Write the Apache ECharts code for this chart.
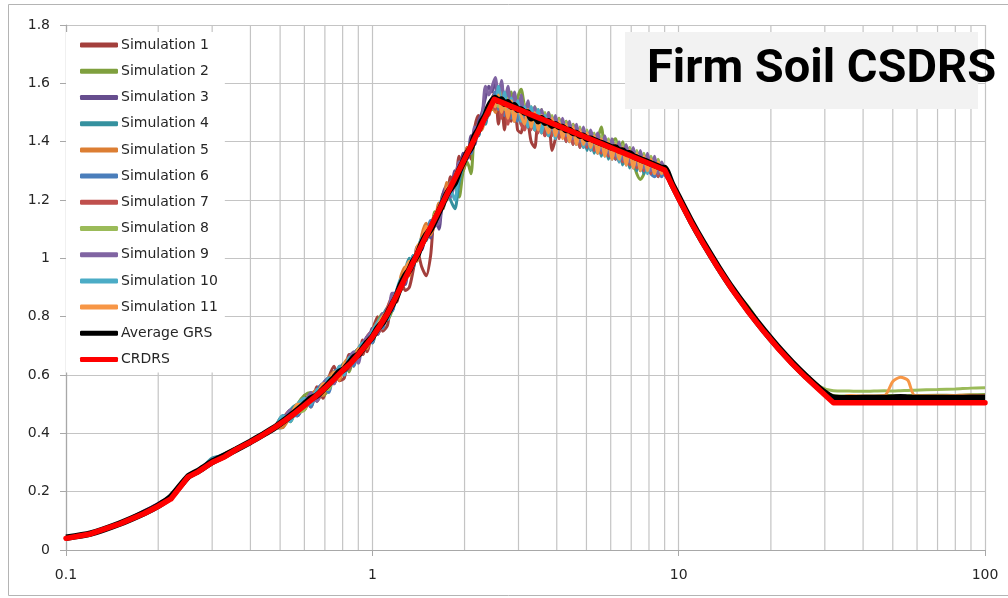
<!DOCTYPE html>
<html>
<head>
<meta charset="utf-8">
<script src="https://cdn.jsdelivr.net/npm/echarts@6/dist/echarts.min.js"></script>
<style>
  html, body { margin: 0; padding: 0; background: #fff; }
  #chart { width: 1008px; height: 598px; }
</style>
</head>
<body>
<div id="chart"></div>
<script>
// Spectral periods (s) shared by the simulations and the average
const periods = [
  0.1,0.12,0.15,0.18,0.2,0.22,0.25,0.27,0.3,0.33,0.36,0.4,0.44,0.48,
  0.51,0.54,0.57,0.6,0.63,0.66,0.69,0.72,0.75,0.78,0.81,0.84,0.87,0.9,0.93,0.96,1.0,1.04,1.08,1.12,1.16,
  1.2,1.24,1.28,1.32,1.36,1.4,1.45,1.5,1.55,1.6,1.65,1.7,1.75,1.8,1.86,1.92,1.98,2.04,2.1,2.16,2.22,2.28,2.34,2.4,2.46,
  2.52,2.58,2.64,2.7,2.77,2.84,2.91,2.98,3.06,3.14,
  3.22,3.3,3.39,3.48,3.57,3.66,3.76,3.86,3.96,4.07,
  4.18,4.29,4.4,4.52,4.64,4.76,4.89,5.02,5.16,5.3,
  5.44,5.59,5.74,5.9,6.06,6.22,6.39,6.56,6.74,6.92,
  7.11,7.3,7.5,7.7,7.91,8.12,8.34,8.57,8.8,9.0,
  9.5,10,11,12,13.5,15,17,19,21,23.5,26,29,32,
  36,40,47,50,53,56,59,70,80,90,100];

const sim1 = [
  0.040,0.056,0.091,0.126,0.152,0.183,0.252,0.271,0.298,0.322,0.343,0.372,0.394,0.418,
  0.45,0.48,0.46,0.53,0.49,0.56,0.52,0.59,0.63,0.58,0.59,0.67,0.67,0.65,0.72,0.68,0.75,0.80,0.75,0.77,0.85,
  0.85,0.93,0.89,0.90,0.96,1.03,0.97,0.94,1.01,1.15,1.13,1.22,1.20,1.28,1.26,1.35,1.30,1.38,1.34,1.45,1.49,1.46,1.51,1.49,1.55,
  1.57,1.46,1.53,1.44,1.55,1.47,1.54,1.44,1.43,1.51,
  1.47,1.40,1.38,1.48,1.45,1.42,1.49,1.37,1.41,1.48,
  1.42,1.47,1.40,1.46,1.39,1.44,1.38,1.43,1.37,1.42,
  1.36,1.41,1.37,1.40,1.34,1.39,1.33,1.38,1.32,1.37,
  1.31,1.36,1.30,1.35,1.31,1.34,1.29,1.33,1.29,1.31,
  1.255,1.205,1.125,1.055,0.966,0.893,0.815,0.750,0.697,0.640,0.595,0.550,0.522,
  0.520,0.522,0.521,0.523,0.522,0.521,0.523,0.524,0.522,0.523,0.524];

const sim2 = [
  0.040,0.055,0.089,0.124,0.150,0.181,0.249,0.272,0.301,0.318,0.348,0.368,0.398,0.423,
  0.46,0.44,0.50,0.53,0.54,0.53,0.53,0.55,0.61,0.62,0.64,0.61,0.67,0.69,0.67,0.73,0.71,0.78,0.81,0.79,0.82,
  0.88,0.89,0.95,0.97,0.98,1.03,1.04,1.10,1.09,1.16,1.14,1.22,1.20,1.26,1.25,1.21,1.30,1.33,1.29,1.43,1.42,1.49,1.47,1.50,1.51,
  1.51,1.57,1.50,1.56,1.48,1.57,1.49,1.55,1.58,1.52,
  1.49,1.46,1.52,1.44,1.51,1.45,1.50,1.43,1.48,1.42,
  1.47,1.41,1.46,1.40,1.45,1.39,1.44,1.38,1.43,1.39,
  1.41,1.45,1.37,1.35,1.40,1.41,1.34,1.40,1.33,1.38,
  1.33,1.29,1.27,1.29,1.35,1.30,1.34,1.29,1.31,1.31,
  1.258,1.210,1.128,1.058,0.970,0.897,0.818,0.754,0.700,0.645,0.600,0.552,0.530,
  0.528,0.527,0.529,0.530,0.528,0.529,0.530,0.531,0.530,0.532,0.533];

const sim3 = [
  0.040,0.056,0.091,0.132,0.160,0.186,0.252,0.270,0.299,0.321,0.344,0.374,0.396,0.419,
  0.43,0.48,0.46,0.50,0.53,0.55,0.57,0.55,0.61,0.62,0.60,0.66,0.67,0.65,0.71,0.69,0.76,0.74,0.81,0.79,0.87,
  0.86,0.91,0.91,0.98,0.97,1.04,1.03,1.10,1.07,1.14,1.10,1.22,1.25,1.22,1.30,1.28,1.36,1.34,1.42,1.39,1.47,1.50,1.55,1.59,1.57,
  1.61,1.52,1.60,1.53,1.58,1.50,1.56,1.48,1.54,1.47,
  1.53,1.46,1.51,1.44,1.50,1.45,1.49,1.43,1.48,1.42,
  1.47,1.41,1.46,1.40,1.45,1.40,1.44,1.38,1.43,1.37,
  1.42,1.36,1.41,1.35,1.40,1.34,1.39,1.33,1.38,1.32,
  1.37,1.31,1.36,1.30,1.35,1.31,1.34,1.29,1.32,1.29,
  1.250,1.206,1.124,1.053,0.966,0.893,0.814,0.751,0.697,0.640,0.594,0.549,0.523,
  0.521,0.522,0.520,0.521,0.522,0.521,0.520,0.522,0.521,0.521,0.522];

const sim4 = [
  0.039,0.054,0.088,0.124,0.149,0.180,0.248,0.268,0.315,0.325,0.342,0.369,0.393,0.417,
  0.42,0.48,0.50,0.48,0.53,0.51,0.57,0.59,0.57,0.62,0.64,0.62,0.67,0.69,0.67,0.73,0.74,0.74,0.80,0.83,0.82,
  0.89,0.92,0.96,1.00,0.97,1.02,1.07,1.06,1.12,1.12,1.18,1.17,1.24,1.20,1.17,1.26,1.32,1.37,1.36,1.42,1.42,1.47,1.46,1.52,1.52,
  1.51,1.57,1.50,1.55,1.48,1.54,1.47,1.53,1.46,1.52,
  1.45,1.51,1.44,1.49,1.43,1.49,1.42,1.48,1.44,1.42,
  1.46,1.40,1.45,1.39,1.44,1.38,1.43,1.37,1.42,1.36,
  1.41,1.35,1.40,1.34,1.39,1.34,1.38,1.32,1.37,1.31,
  1.36,1.30,1.35,1.29,1.34,1.29,1.33,1.28,1.32,1.29,
  1.253,1.206,1.123,1.053,0.965,0.892,0.813,0.749,0.695,0.639,0.593,0.547,0.522,
  0.520,0.521,0.522,0.520,0.521,0.522,0.521,0.520,0.522,0.521,0.521];

const sim5 = [
  0.041,0.055,0.090,0.125,0.151,0.182,0.254,0.273,0.302,0.330,0.350,0.372,0.401,0.418,
  0.42,0.46,0.50,0.48,0.53,0.55,0.53,0.59,0.61,0.58,0.64,0.66,0.63,0.69,0.71,0.69,0.75,0.78,0.76,0.83,0.86,
  0.86,0.94,0.97,0.94,1.01,0.99,1.08,1.12,1.08,1.12,1.19,1.17,1.26,1.23,1.28,1.32,1.31,1.38,1.36,1.42,1.45,1.44,1.49,1.50,1.52,
  1.50,1.56,1.49,1.55,1.50,1.54,1.47,1.53,1.47,1.52,
  1.45,1.51,1.44,1.50,1.43,1.49,1.43,1.48,1.42,1.47,
  1.42,1.46,1.41,1.45,1.40,1.44,1.39,1.43,1.38,1.42,
  1.38,1.41,1.36,1.40,1.35,1.39,1.34,1.38,1.33,1.37,
  1.32,1.36,1.31,1.35,1.30,1.34,1.30,1.33,1.30,1.31,
  1.256,1.208,1.125,1.055,0.967,0.894,0.815,0.751,0.697,0.641,0.595,0.550,0.526,
  0.524,0.525,0.524,0.526,0.525,0.524,0.525,0.526,0.525,0.526,0.526];

const sim6 = [
  0.040,0.055,0.089,0.125,0.150,0.179,0.250,0.270,0.310,0.330,0.345,0.368,0.395,0.420,
  0.46,0.46,0.46,0.52,0.49,0.55,0.57,0.54,0.61,0.62,0.60,0.66,0.63,0.69,0.70,0.73,0.71,0.78,0.76,0.83,0.82,
  0.88,0.90,0.94,0.96,1.01,1.00,1.06,1.07,1.13,1.12,1.17,1.21,1.21,1.26,1.26,1.31,1.32,1.37,1.36,1.42,1.42,1.48,1.47,1.53,1.54,
  1.57,1.51,1.56,1.49,1.57,1.48,1.54,1.47,1.53,1.46,
  1.52,1.45,1.50,1.44,1.50,1.44,1.49,1.43,1.47,1.42,
  1.47,1.41,1.45,1.40,1.45,1.39,1.44,1.38,1.43,1.37,
  1.42,1.36,1.41,1.35,1.40,1.34,1.39,1.34,1.38,1.32,
  1.37,1.31,1.35,1.30,1.34,1.29,1.28,1.29,1.28,1.30,
  1.250,1.204,1.121,1.052,0.964,0.890,0.812,0.748,0.694,0.638,0.592,0.547,0.524,
  0.522,0.521,0.523,0.522,0.521,0.523,0.522,0.521,0.522,0.523,0.522];

const sim7 = [
  0.040,0.055,0.090,0.126,0.151,0.180,0.250,0.271,0.300,0.319,0.346,0.371,0.394,0.421,
  0.44,0.45,0.49,0.50,0.53,0.51,0.55,0.59,0.57,0.62,0.63,0.62,0.67,0.67,0.67,0.73,0.75,0.74,0.78,0.83,0.87,
  0.88,0.89,0.94,0.95,1.00,1.02,1.04,1.09,1.10,1.15,1.15,1.20,1.21,1.26,1.27,1.28,1.34,1.35,1.40,1.40,1.45,1.45,1.49,1.50,1.53,
  1.51,1.56,1.48,1.54,1.46,1.53,1.48,1.54,1.46,1.44,
  1.51,1.44,1.50,1.43,1.49,1.42,1.48,1.42,1.46,1.41,
  1.46,1.40,1.45,1.39,1.44,1.38,1.43,1.38,1.42,1.37,
  1.41,1.36,1.40,1.35,1.39,1.34,1.38,1.33,1.37,1.32,
  1.36,1.31,1.35,1.30,1.34,1.29,1.33,1.28,1.32,1.29,
  1.252,1.205,1.122,1.052,0.964,0.891,0.812,0.748,0.694,0.638,0.593,0.548,0.525,
  0.523,0.524,0.523,0.522,0.524,0.523,0.524,0.523,0.524,0.525,0.524];

const sim8 = [
  0.040,0.055,0.090,0.125,0.153,0.185,0.250,0.272,0.300,0.322,0.345,0.371,0.396,0.420,
  0.44,0.46,0.47,0.48,0.53,0.54,0.55,0.55,0.60,0.62,0.62,0.65,0.67,0.66,0.70,0.70,0.74,0.77,0.80,0.80,0.86,
  0.87,0.91,0.93,0.97,0.99,1.02,1.05,1.09,1.11,1.15,1.16,1.20,1.22,1.25,1.27,1.31,1.33,1.36,1.39,1.42,1.44,1.46,1.48,1.51,1.53,
  1.55,1.52,1.57,1.51,1.55,1.51,1.49,1.54,1.48,1.53,
  1.47,1.52,1.46,1.51,1.45,1.50,1.44,1.49,1.43,1.48,
  1.42,1.47,1.41,1.46,1.40,1.45,1.39,1.44,1.38,1.43,
  1.37,1.42,1.37,1.41,1.36,1.40,1.35,1.39,1.34,1.38,
  1.33,1.37,1.32,1.36,1.31,1.35,1.30,1.34,1.30,1.31,
  1.260,1.212,1.128,1.058,0.970,0.897,0.830,0.755,0.702,0.647,0.602,0.560,0.546,
  0.545,0.544,0.546,0.545,0.546,0.547,0.548,0.550,0.552,0.555,0.556];

const sim9 = [
  0.040,0.056,0.092,0.135,0.158,0.184,0.251,0.270,0.300,0.321,0.346,0.370,0.397,0.418,
  0.44,0.48,0.48,0.50,0.54,0.51,0.57,0.59,0.57,0.63,0.60,0.66,0.68,0.64,0.71,0.73,0.75,0.74,0.81,0.79,0.88,
  0.88,0.90,0.93,0.96,1.00,1.01,1.06,1.08,1.10,1.11,1.12,1.20,1.24,1.21,1.26,1.33,1.33,1.37,1.38,1.45,1.43,1.48,1.59,1.56,1.59,
  1.62,1.55,1.61,1.53,1.59,1.52,1.57,1.50,1.56,1.48,
  1.54,1.47,1.52,1.46,1.51,1.45,1.50,1.44,1.49,1.43,
  1.48,1.42,1.47,1.41,1.46,1.40,1.45,1.39,1.44,1.40,
  1.43,1.37,1.42,1.36,1.41,1.35,1.40,1.34,1.39,1.33,
  1.38,1.32,1.37,1.31,1.36,1.30,1.35,1.29,1.33,1.30,
  1.256,1.208,1.124,1.054,0.967,0.894,0.815,0.751,0.697,0.641,0.595,0.549,0.524,
  0.522,0.523,0.522,0.521,0.523,0.522,0.523,0.522,0.523,0.522,0.523];

const sim10 = [
  0.040,0.055,0.090,0.125,0.150,0.181,0.250,0.270,0.305,0.325,0.344,0.372,0.394,0.419,
  0.46,0.44,0.50,0.52,0.50,0.55,0.55,0.59,0.59,0.63,0.60,0.66,0.65,0.69,0.71,0.71,0.75,0.78,0.80,0.79,0.85,
  0.89,0.93,0.92,0.97,1.01,1.00,1.07,1.07,1.12,1.13,1.17,1.18,1.23,1.23,1.20,1.30,1.32,1.35,1.40,1.41,1.44,1.48,1.51,1.52,1.55,
  1.52,1.59,1.51,1.57,1.49,1.55,1.48,1.54,1.47,1.52,
  1.45,1.52,1.44,1.51,1.43,1.49,1.42,1.48,1.41,1.47,
  1.43,1.46,1.40,1.45,1.39,1.44,1.38,1.43,1.37,1.42,
  1.36,1.41,1.35,1.40,1.34,1.39,1.33,1.38,1.32,1.37,
  1.31,1.36,1.30,1.35,1.29,1.34,1.29,1.32,1.29,1.31,
  1.254,1.207,1.123,1.053,0.965,0.892,0.813,0.749,0.695,0.639,0.593,0.548,0.524,
  0.522,0.521,0.522,0.523,0.521,0.522,0.523,0.521,0.522,0.523,0.522];

const sim11 = [
  0.040,0.055,0.090,0.125,0.150,0.182,0.251,0.272,0.300,0.323,0.344,0.371,0.395,0.420,
  0.44,0.46,0.50,0.50,0.52,0.53,0.57,0.57,0.61,0.59,0.64,0.64,0.65,0.69,0.69,0.72,0.73,0.77,0.80,0.82,0.84,
  0.88,0.92,0.96,0.99,0.98,1.04,1.06,1.11,1.09,1.15,1.17,1.19,1.24,1.25,1.26,1.31,1.33,1.36,1.39,1.41,1.44,1.47,1.49,1.51,1.53,
  1.52,1.56,1.50,1.54,1.48,1.54,1.47,1.52,1.49,1.46,
  1.51,1.45,1.50,1.44,1.49,1.46,1.43,1.48,1.42,1.47,
  1.41,1.46,1.40,1.45,1.39,1.44,1.39,1.43,1.38,1.42,
  1.36,1.41,1.35,1.40,1.34,1.39,1.34,1.38,1.32,1.37,
  1.31,1.36,1.30,1.35,1.30,1.34,1.29,1.33,1.29,1.31,
  1.255,1.207,1.124,1.055,0.966,0.893,0.814,0.750,0.696,0.640,0.594,0.549,0.515,
  0.530,0.528,0.530,0.578,0.592,0.582,0.530,0.529,0.530,0.531,0.530];

const averageGRS = [
  0.042,0.056,0.091,0.127,0.152,0.182,0.251,0.271,0.302,0.324,0.345,0.371,0.396,0.420,
  0.44,0.46,0.48,0.50,0.52,0.53,0.55,0.57,0.59,0.61,0.62,0.64,0.66,0.67,0.69,0.71,0.73,0.76,0.78,0.81,0.84,
  0.87,0.91,0.94,0.96,0.99,1.01,1.05,1.08,1.10,1.13,1.16,1.19,1.22,1.24,1.26,1.30,1.33,1.36,1.38,1.42,1.44,1.47,1.49,1.52,1.54,
  1.55,1.54,1.545,1.53,1.535,1.52,1.525,1.51,1.51,1.50,
  1.50,1.48,1.485,1.47,1.48,1.465,1.47,1.455,1.46,1.45,
  1.45,1.44,1.44,1.43,1.43,1.42,1.42,1.41,1.41,1.405,
  1.40,1.395,1.39,1.385,1.38,1.38,1.37,1.37,1.36,1.36,
  1.35,1.345,1.34,1.335,1.33,1.325,1.32,1.315,1.31,1.31,
  1.256,1.210,1.126,1.056,0.968,0.895,0.817,0.752,0.698,0.642,0.596,0.551,0.522,
  0.520,0.521,0.521,0.522,0.524,0.522,0.521,0.521,0.521,0.522,0.522];

// Design spectrum (period, spectral acceleration)
const crdrsPeriods = [0.1,0.12,0.15,0.18,0.2,0.22,0.25,0.27,0.3,0.33,0.36,0.4,0.44,0.48,0.52,0.56,0.6,0.65,0.7,0.75,0.8,0.85,0.9,0.95,1.0,1.06,1.12,1.18,
  2.5,9.0,9.5,10,11,12,13.5,15,17,19,21,23.5,26,29,32,100];
const crdrsSa = [0.040,0.055,0.090,0.125,0.150,0.175,0.250,0.268,0.300,0.320,0.345,0.370,0.395,0.420,0.445,0.470,0.495,0.525,0.555,0.585,0.615,0.640,0.670,0.700,0.730,0.770,0.810,0.857,
  1.545,1.303,1.252,1.205,1.122,1.052,0.964,0.891,0.812,0.748,0.694,0.638,0.592,0.546,0.505,0.505];

const simNames = ['Simulation 1','Simulation 2','Simulation 3','Simulation 4','Simulation 5','Simulation 6',
  'Simulation 7','Simulation 8','Simulation 9','Simulation 10','Simulation 11'];
const simColors = ['#A33F3C','#7FA03E','#664D8E','#35919F','#DC7E33','#4A7EBB',
  '#C0504D','#9BBB59','#8064A2','#4BACC6','#F79646'];
const simValues = [sim1, sim2, sim3, sim4, sim5, sim6, sim7, sim8, sim9, sim10, sim11];

// Minor gridlines for the log period axis
const minorPeriods = [0.2,0.3,0.4,0.5,0.6,0.7,0.8,0.9,2,3,4,5,6,7,8,9,20,30,40,50,60,70,80,90];

const xLabels = {0.1: '0.1', 1: '1', 10: '10', 100: '100'};
const titleText = 'Firm Soil CSDRS';

const chart = echarts.init(document.getElementById('chart'));

const pair = (xs, ys) => xs.map((x, i) => [x, ys[i]]);

const series = [];
series.push({
  type: 'custom',
  silent: true,
  z: 1,
  data: minorPeriods.map(p => [p, 0]),
  renderItem: function (params, api) {
    const x = api.coord([api.value(0), 0])[0];
    const cs = params.coordSys;
    return {
      type: 'line',
      shape: { x1: x, y1: cs.y, x2: x, y2: cs.y + cs.height },
      style: { stroke: '#c4c4c4', lineWidth: 1.2 }
    };
  }
});
simValues.forEach((vals, i) => {
  series.push({
    name: simNames[i],
    type: 'line',
    data: pair(periods, vals),
    symbol: 'none',
    smooth: 0.25,
    z: 3,
    lineStyle: { color: simColors[i], width: 3 },
    itemStyle: { color: simColors[i] }
  });
});
series.push({
  name: 'Average GRS',
  type: 'line',
  data: pair(periods, averageGRS),
  symbol: 'none',
  smooth: 0.2,
  z: 3,
  lineStyle: { color: '#000000', width: 6.5 },
  itemStyle: { color: '#000000' }
});
series.push({
  name: 'CRDRS',
  type: 'line',
  data: pair(crdrsPeriods, crdrsSa),
  symbol: 'none',
  z: 3,
  lineStyle: { color: '#FF0000', width: 5.5, join: 'round', cap: 'round' },
  itemStyle: { color: '#FF0000' }
});

const legendNames = simNames.concat(['Average GRS', 'CRDRS']);

chart.setOption({
  animation: false,
  backgroundColor: '#ffffff',
  grid: { left: 66, right: 23, top: 25, bottom: 48 },
  xAxis: {
    type: 'log',
    logBase: 10,
    min: 0.1,
    max: 100,
    axisLine: { show: true, lineStyle: { color: '#a8a8a8', width: 1.2 } },
    axisTick: { show: true, length: 6, lineStyle: { color: '#a8a8a8' } },
    axisLabel: {
      margin: 18,
      color: '#262626',
      fontFamily: 'DejaVu Sans',
      fontSize: 14,
      formatter: v => xLabels[v] !== undefined ? xLabels[v] : String(v)
    },
    splitLine: { show: true, lineStyle: { color: '#c4c4c4', width: 1.2 } }
  },
  yAxis: {
    type: 'value',
    min: 0,
    max: 1.8,
    interval: 0.2,
    axisLine: { show: true, lineStyle: { color: '#a8a8a8', width: 1.2 } },
    axisTick: { show: true, length: 6, lineStyle: { color: '#a8a8a8' } },
    axisLabel: {
      margin: 16,
      color: '#262626',
      fontFamily: 'DejaVu Sans',
      fontSize: 14
    },
    splitLine: { show: true, lineStyle: { color: '#c4c4c4', width: 1.2 } }
  },
  legend: {
    orient: 'vertical',
    left: 66,
    top: 32,
    padding: [0, 7, 0, 14],
    itemGap: 0,
    itemWidth: 38,
    itemHeight: 5,
    icon: 'roundRect',
    backgroundColor: '#ffffff',
    data: legendNames,
    textStyle: {
      fontFamily: 'DejaVu Sans',
      fontSize: 14,
      color: '#262626',
      lineHeight: 26.2,
      padding: [0, 0, 0, -2]
    }
  },
  graphic: [
    {
      type: 'rect',
      silent: true,
      z: 0,
      shape: { x: 8.5, y: 4.5, width: 1010, height: 591 },
      style: { fill: 'none', stroke: '#b4b4b4', lineWidth: 1 }
    },
    {
      type: 'rect',
      z: 10,
      shape: { x: 625, y: 32, width: 353, height: 77 },
      style: { fill: '#f2f2f2' }
    },
    {
      type: 'text',
      z: 11,
      left: 647,
      top: 47,
      style: {
        text: titleText,
        font: 'bold 47px Roboto',
        fill: '#000000'
      }
    }
  ],
  series: series
});
</script>
</body>
</html>
